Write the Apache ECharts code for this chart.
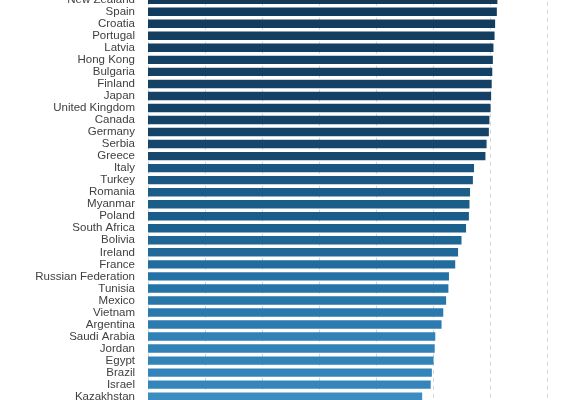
<!DOCTYPE html>
<html>
<head>
<meta charset="utf-8">
<title>Bar chart</title>
<script src="https://cdn.jsdelivr.net/npm/echarts@6/dist/echarts.min.js"></script>
<style>
  html, body { margin: 0; padding: 0; background: #fff; overflow: hidden; }
  /* the reference is a crop of a taller chart: shift the canvas up a little */
  #chart { position: absolute; left: 0; top: -12px; width: 570px; height: 424px; }
</style>
</head>
<body>
<div id="chart"></div>
<script>
// countries, top to bottom (the picture is a crop of a taller chart)
const countries = [
    "New Zealand", "Spain", "Croatia", "Portugal", "Latvia", "Hong Kong",
    "Bulgaria", "Finland", "Japan", "United Kingdom", "Canada", "Germany",
    "Serbia", "Greece", "Italy", "Turkey", "Romania", "Myanmar", "Poland",
    "South Africa", "Bolivia", "Ireland", "France", "Russian Federation",
    "Tunisia", "Mexico", "Vietnam", "Argentina", "Saudi Arabia", "Jordan",
    "Egypt", "Brazil", "Israel", "Kazakhstan"
];
// values
const scores = [
    61.3, 61.2, 60.9, 60.8, 60.6, 60.5,
    60.4, 60.3, 60.2, 60.1, 59.9, 59.8,
    59.4, 59.2, 57.2, 57.0, 56.5, 56.4, 56.3,
    55.8, 55.0, 54.4, 53.9, 52.8,
    52.7, 52.3, 51.8, 51.5, 50.4, 50.3,
    50.1, 49.8, 49.6, 48.1
];
const xTicks = { min: 0, max: 70, interval: 10 };

const chart = echarts.init(document.getElementById("chart"));

const option = {
    animation: false,
    grid: {
        left: 148,
        right: 23,
        top: 5.7,
        height: 409,
        containLabel: false
    },
    visualMap: {
        show: false,
        type: "continuous",
        seriesIndex: 0,
        dimension: 0,
        min: 48,
        max: 61.3,
        inRange: {
            color: ["#3b8cc1", "#2f80b6", "#236fa3", "#1c608d", "#174a72", "#123b5c"]
        }
    },
    xAxis: {
        type: "value",
        min: xTicks.min,
        max: xTicks.max,
        interval: xTicks.interval,
        axisLine: { show: false },
        axisTick: { show: false },
        axisLabel: { show: false },
        splitLine: {
            show: true,
            lineStyle: { type: [4, 4], color: "#d4d4d4", width: 1 }
        }
    },
    yAxis: {
        type: "category",
        data: countries,
        inverse: true,
        axisLine: { show: false },
        axisTick: { show: false },
        axisLabel: {
            interval: 0,
            margin: 13,
            color: "#404040",
            fontFamily: "Liberation Sans, Arial, sans-serif",
            fontSize: 11.5
        }
    },
    series: [
        {
            type: "bar",
            encode: { x: 0, y: 1 },
            data: scores.map((v, i) => [v, countries[i]]),
            barWidth: "70%",
            silent: true
        }
    ]
};

chart.setOption(option);
</script>
</body>
</html>
